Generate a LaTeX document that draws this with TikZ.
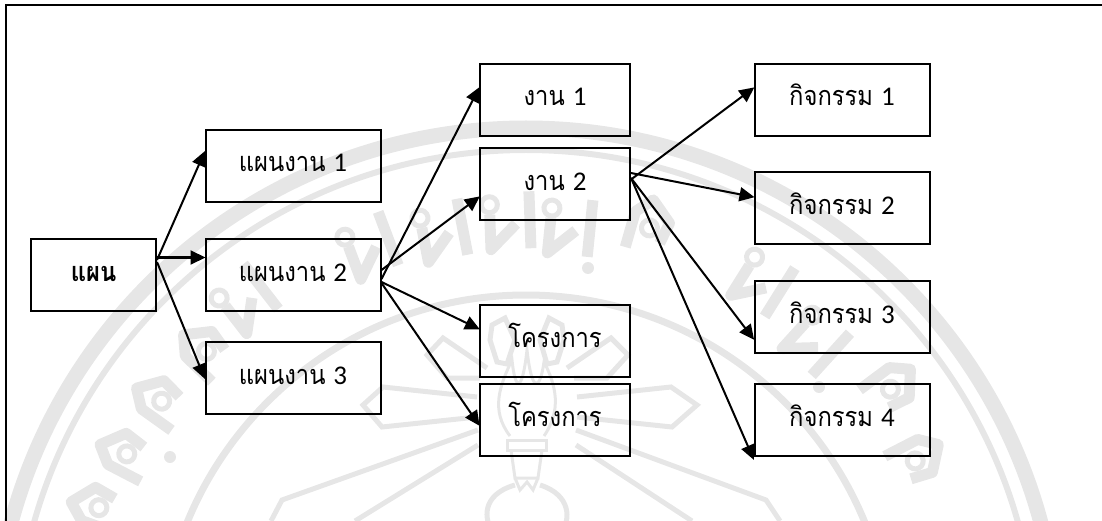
\documentclass[tikz,border=0pt]{standalone}
\usepackage{fontspec}
\usetikzlibrary{arrows.meta}
\setmainfont[Script=Thai,FakeStretch=0.88]{Loma}
\newfontfamily\digitfont{Carlito}
\definecolor{wmgray}{HTML}{E6E6E6}
\tikzset{
  box/.style={draw,line width=2pt,minimum height=72pt,font=\fontsize{27}{30}\selectfont,inner sep=0pt,text height=16pt,text depth=4pt},
  planbox/.style={box,minimum width=125pt,font=\fontsize{27}{30}\selectfont\bfseries},
  itembox/.style={box,minimum width=175pt},
  jobbox/.style={box,minimum width=150pt},
  link/.style={line width=2pt,-{Triangle[length=15pt,width=14pt]},shorten >=-1pt},
  wmring/.style={draw=wmgray},
  wmline/.style={draw=wmgray,line width=5pt,line join=miter},
  wmletter/.style={draw=wmgray,line width=11pt,line join=round}
}
\begin{document}
\begin{tikzpicture}[x=1pt,y=-1pt]
\useasboundingbox (0,0) rectangle (1102,521);

% seal in the background
\draw [wmring,line width=15pt] (526,661) circle (533);
\draw [wmring,line width=6pt] (526,661) circle (511);
\draw [wmring,line width=7pt] (526,661) circle (366);

% side leaves of the seal
\draw [wmline] (477,397) -- (383,387) -- (363,405) -- (382,427) -- (477,417);
\draw [wmline] (577,397) -- (671,387) -- (697,405) -- (672,427) -- (577,417);
\draw [wmline] (487,368) -- (443,338) -- (427,355) -- (447,378) -- (480,378);
\draw [wmline] (567,368) -- (611,338) -- (628,355) -- (607,378) -- (574,378);
\draw [wmline] (492,325) -- (505,318) -- (515,340) -- (507,364) -- (497,362) -- (490,340) -- cycle;
\draw [wmline] (562,325) -- (549,318) -- (540,340) -- (547,364) -- (557,362) -- (564,340) -- cycle;

% long rays of the seal
\draw [wmline] (478,430) -- (282,500) -- (271,521);
\draw [wmline] (478,445) -- (355,521);
\draw [wmline] (576,430) -- (766,500) -- (780,521);
\draw [wmline] (576,445) -- (692,521);

% torch
\draw [wmline,line width=3pt] (507,440) rectangle (546,450);
\draw [wmline,line width=3pt] (511,450) -- (515,478) -- (538,478) -- (542,450);
\draw [wmline,line width=3pt] (515,478) -- (520,490) -- (527,482) -- (533,490) -- (538,478);
\draw [wmline,line width=3pt] (510,436) .. controls (490,410) and (500,385) .. (512,360)
  .. controls (515,390) and (522,395) .. (527,350) .. controls (532,395) and (540,390) .. (544,362)
  .. controls (556,385) and (562,410) .. (544,436);
\draw [wmline] (515,485) .. controls (480,495) and (485,521) .. (492,530);
\draw [wmline] (540,485) .. controls (572,495) and (570,521) .. (562,530);

% letters round the seal, first kind
\foreach \lx/\ly in {246/300,370/247,443/232,510/222,570/228,762/283,815/342} {
  \pgfmathsetmacro\lrot{-atan2(\lx-526,661-\ly)}
  \begin{scope}[shift={(\lx,\ly)},rotate=\lrot]
    \draw [wmletter] (-20,-8) -- (-20,27) -- (6,2);
    \draw [wmletter] (20,-30) -- (20,27);
    \draw [wmring,line width=5pt] (-20,-18) circle (8);
  \end{scope}
}
% letters round the seal, second kind
\foreach \lx/\ly in {97/507,125/453,160/400,205/350,650/226,892/388,917/460} {
  \pgfmathsetmacro\lrot{-atan2(\lx-526,661-\ly)}
  \begin{scope}[shift={(\lx,\ly)},rotate=\lrot]
    \draw [wmletter] (-18,27) -- (-18,-10) -- (-4,-26) -- (18,-8) -- (14,14);
    \draw [wmring,line width=5pt] (0,2) circle (8);
  \end{scope}
}
\fill [wmgray] (588,268) circle (6);
\fill [wmgray] (819,387) circle (6);
\fill [wmgray] (170,457) circle (6);

% page frame, cut off at right and bottom
\draw [line width=2pt] (1102,5.5) -- (5.5,5.5) -- (5.5,521);

% the plan
\node (plan) [planbox] at (93.5,275) {แผน};

% work plans
\node (wpa) [itembox] at (293,166) {แผนงาน {\digitfont 1}};
\node (wpb) [itembox] at (293,275) {แผนงาน {\digitfont 2}};
\node (wpc) [itembox] at (293,378) {แผนงาน {\digitfont 3}};

% jobs and projects
\node (joba) [jobbox] at (555,100) {งาน {\digitfont 1}};
\node (jobb) [jobbox] at (555,184.5) {งาน {\digitfont 2}};
\node (proja) [jobbox] at (555,341) {โครงการ};
\node (projb) [jobbox] at (555,420) {โครงการ};

% activities
\node (acta) [itembox] at (842,100) {กิจกรรม {\digitfont 1}};
\node (actb) [itembox] at (842,208.5) {กิจกรรม {\digitfont 2}};
\node (actc) [itembox] at (842,317) {กิจกรรม {\digitfont 3}};
\node (actd) [itembox] at (842,420) {กิจกรรม {\digitfont 4}};

% plan to work plans
\draw [link] ([yshift=15pt]plan.east) -- ([yshift=14pt]wpa.west);
\draw [link] ([yshift=17.5pt]plan.east) -- ([yshift=17.5pt]wpb.west);
\draw [link] ([yshift=13pt]plan.east) -- ([yshift=0pt]wpc.west);

% work plan 2 to jobs and projects
\draw [link] ([yshift=-4pt]wpb.east) -- ([yshift=12pt]joba.west);
\draw [link] ([yshift=5pt]wpb.east) -- ([yshift=-12.5pt]jobb.west);
\draw [link] ([yshift=-7pt]wpb.east) -- ([yshift=12pt]proja.west);
\draw [link] ([yshift=-8pt]wpb.east) -- ([yshift=-5pt]projb.west);

% job 2 to activities
\draw [link] ([yshift=5pt]jobb.east) -- ([yshift=12pt]acta.west);
\draw [link] ([yshift=11.5pt]jobb.east) -- ([yshift=11.5pt]actb.west);
\draw [link] ([yshift=6.5pt]jobb.east) -- ([yshift=-22pt]actc.west);
\draw [link] ([yshift=6.5pt]jobb.east) -- ([yshift=-39pt]actd.west);

\end{tikzpicture}
\end{document}
